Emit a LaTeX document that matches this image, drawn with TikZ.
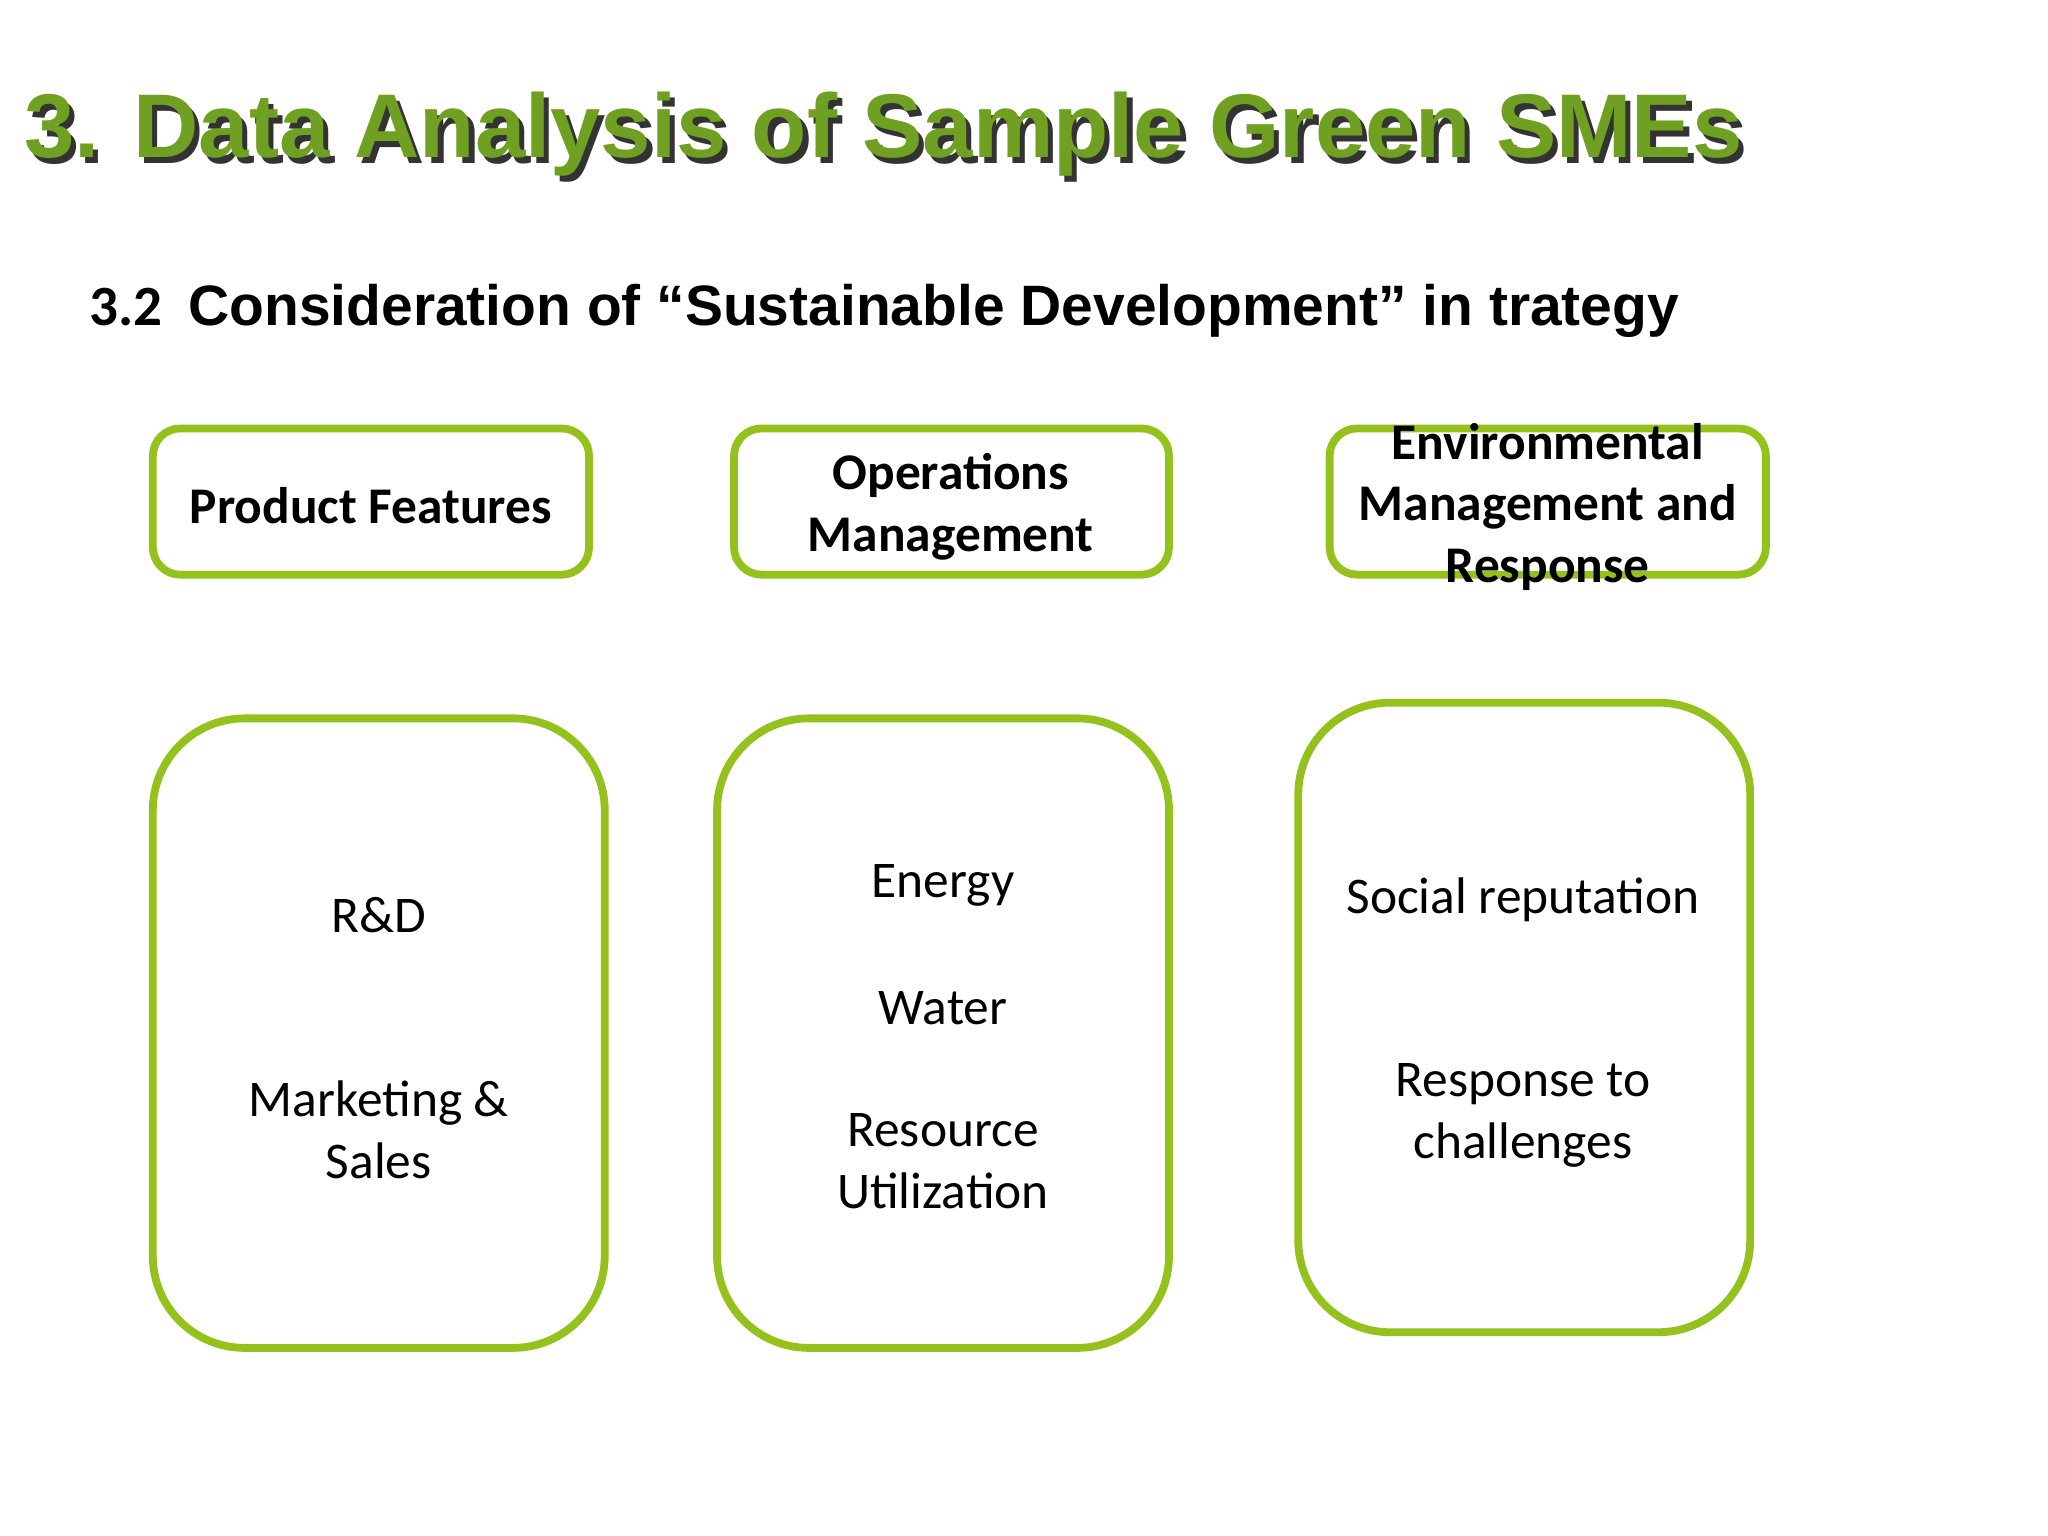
\documentclass[tikz,border=0pt]{standalone}
\usepackage{fontspec}
\setmainfont{Carlito}
\newfontfamily\arialf{Liberation Sans}
\definecolor{boxgreen}{HTML}{94C11C}
\definecolor{titlegreen}{HTML}{6FA022}
\begin{document}
\begin{tikzpicture}[x=0.01cm,y=-0.01cm,
  topbox/.style={draw=boxgreen,line width=1.7pt,rounded corners=6pt,fill=white},
  bigbox/.style={draw=boxgreen,line width=1.7pt,rounded corners=20pt,fill=white},
  lbl/.style={font=\fontsize{11.2}{13.4}\selectfont\bfseries,align=center},
  txt/.style={font=\fontsize{11.2}{13.4}\selectfont,align=center}]
\useasboundingbox (0,0) rectangle (1568,1176);
\node[anchor=west,inner sep=0pt,font=\arialf\bfseries\fontsize{19.7}{22}\selectfont,text=black!80] (tsh) at (22,107) {3. Data Analysis of Sample Green SMEs};
\node[anchor=west,inner sep=0pt,font=\arialf\bfseries\fontsize{19.7}{22}\selectfont,text=titlegreen] (title) at (18,103) {3. Data Analysis of Sample Green SMEs};
\node[anchor=west,inner sep=0pt,font=\fontsize{12.4}{14}\selectfont\bfseries] (sub) at (68,238) {3.2\ \ {\arialf Consideration of “Sustainable Development” in trategy}};
\draw[topbox] (117,328) rectangle (451,440);
\draw[topbox] (562,328) rectangle (895,440);
\draw[topbox] (1018,328) rectangle (1352,440);
\node[lbl] (t1) at (284,387) {Product Features};
\node[lbl] (t2) at (728,388) {Operations\\Management};
\node[lbl] (t3) at (1185,388) {Environmental\\Management and\\Response};
\draw[bigbox] (117,550) rectangle (463,1032);
\draw[bigbox] (549,550) rectangle (895,1032);
\draw[bigbox] (994,538) rectangle (1340,1020);
\node[txt] (a1) at (290,701) {R\&D};
\node[txt] (a2) at (290,865) {Marketing \&\\Sales};
\node[txt] (b1) at (722,678) {Energy};
\node[txt] (b2) at (722,772) {Water};
\node[txt] (b3) at (722,889) {Resource\\Utilization};
\node[txt] (c1) at (1166,689) {Social reputation};
\node[txt] (c2) at (1166,854) {Response to\\challenges};
\end{tikzpicture}
\end{document}
